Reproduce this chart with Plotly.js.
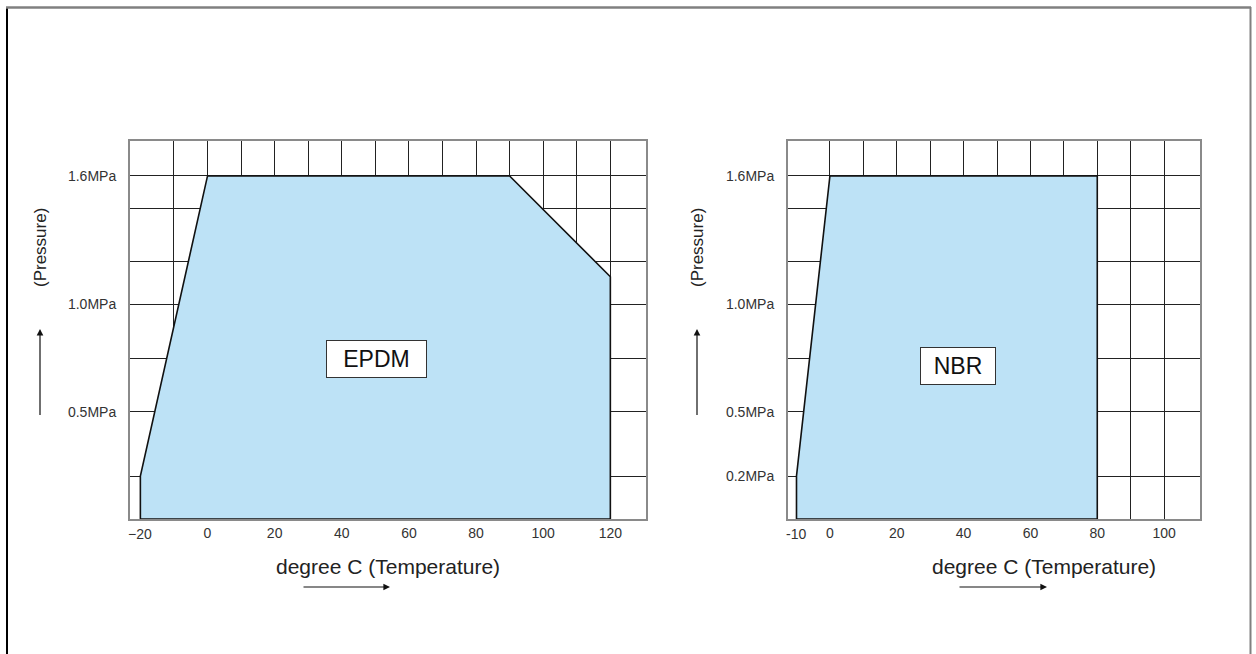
<!DOCTYPE html>
<html>
<head>
<meta charset="utf-8">
<script src="https://cdn.plot.ly/plotly-3.0.1.min.js"></script>
<style>
  html, body { margin: 0; padding: 0; background: #fff; }
  #chart { width: 1256px; height: 654px; }
</style>
</head>
<body>
<div id="chart"></div>
<script>
// ---- Data ----
// EPDM operating envelope: temperature (deg C) vs pressure (MPa)
const epdmTemp     = [-20, -20, 0, 90, 120, 120, -20];
const epdmPressure = [0, 0.2, 1.6, 1.6, 1.13, 0, 0];

// NBR operating envelope
const nbrTemp     = [-10, -10, 0, 80, 80, -10];
const nbrPressure = [0, 0.2, 1.6, 1.6, 0, 0];

// Tick / grid positions and labels
const epdmMinTemp = -20, epdmMinLabel = '\u221220';
const nbrMinTemp  = -10, nbrMinLabel  = '-10';
const epdmTempTicks  = [-10, 0, 10, 20, 30, 40, 50, 60, 70, 80, 90, 100, 110, 120];
const epdmTempLabels = ['', '0', '', '20', '', '40', '', '60', '', '80', '', '100', '', '120'];
const nbrTempTicks   = [0, 10, 20, 30, 40, 50, 60, 70, 80, 90, 100];
const nbrTempLabels  = ['0', '', '20', '', '40', '', '60', '', '80', '', '100'];
const pressureTicks      = [0.2, 0.5, 0.75, 1.0, 1.2, 1.45, 1.6];
const epdmPressureLabels = ['', '0.5MPa', '', '1.0MPa', '', '', '1.6MPa'];
const nbrPressureLabels  = ['0.2MPa', '0.5MPa', '', '1.0MPa', '', '', '1.6MPa'];

const materialNames = ['EPDM', 'NBR'];
const xTitle = 'degree C (Temperature)';
const yTitle = '(Pressure)';

// ---- Styling ----
const W = 1256, H = 654;
const FONT = 'Liberation Sans, Arial, Helvetica, sans-serif';
const fillColor = '#bde2f6';
const px = v => v / W;
const py = v => 1 - v / H;
const tickFontX = { family: FONT, size: 14, color: '#333' };

const traces = [
  {
    x: epdmTemp, y: epdmPressure, xaxis: 'x', yaxis: 'y',
    type: 'scatter', mode: 'lines', fill: 'toself', fillcolor: fillColor,
    line: { color: '#111', width: 1.6 }, hoverinfo: 'skip', name: materialNames[0]
  },
  {
    x: nbrTemp, y: nbrPressure, xaxis: 'x2', yaxis: 'y2',
    type: 'scatter', mode: 'lines', fill: 'toself', fillcolor: fillColor,
    line: { color: '#111', width: 1.6 }, hoverinfo: 'skip', name: materialNames[1]
  }
];

function xAxis(domain, range, tickvals, ticktext, anchor) {
  return {
    domain, range, anchor, tickmode: 'array', tickvals, ticktext,
    showgrid: true, gridcolor: '#222', gridwidth: 1, zeroline: false,
    showline: true, mirror: true, linecolor: '#8a8a8a', linewidth: 2,
    ticks: '', tickfont: tickFontX, fixedrange: true
  };
}
function yAxis(domain, tickvals, ticktext, anchor) {
  return {
    domain, range: [0, 1.763], anchor, tickmode: 'array', tickvals, ticktext,
    showgrid: true, gridcolor: '#222', gridwidth: 1, zeroline: false,
    showline: true, mirror: true, linecolor: '#8a8a8a', linewidth: 2,
    ticks: 'outside', ticklen: 9, tickcolor: 'rgba(0,0,0,0)',
    tickfont: { family: FONT, size: 14, color: '#333' }, fixedrange: true
  };
}

const yDom = [py(519), py(141)];

const arrowCommon = {
  xref: 'paper', yref: 'paper', text: ' ', font: { size: 1 },
  showarrow: true, arrowhead: 2, arrowsize: 1.1, arrowwidth: 1.2, arrowcolor: '#111',
  axref: 'pixel', ayref: 'pixel', standoff: 0, startstandoff: 0
};

const annotations = [
  // minimum-temperature tick labels (no grid line in the reference)
  { xref: 'x', yref: 'paper', x: epdmMinTemp, y: py(524), text: epdmMinLabel, showarrow: false,
    xanchor: 'center', yanchor: 'top', font: tickFontX },
  { xref: 'x2', yref: 'paper', x: nbrMinTemp, y: py(524), text: nbrMinLabel, showarrow: false,
    xanchor: 'center', yanchor: 'top', font: tickFontX },
  // material labels
  { xref: 'x', yref: 'y', x: 50.2, y: 0.746, text: materialNames[0], showarrow: false,
    font: { family: FONT, size: 23, color: '#111' }, bgcolor: '#fff',
    bordercolor: '#333', borderwidth: 1, borderpad: 4, width: 91, height: 28 },
  { xref: 'x2', yref: 'y2', x: 38.3, y: 0.714, text: materialNames[1], showarrow: false,
    font: { family: FONT, size: 23, color: '#111' }, bgcolor: '#fff',
    bordercolor: '#333', borderwidth: 1, borderpad: 4, width: 66, height: 28 },
  // x titles
  { xref: 'paper', yref: 'paper', x: px(388), y: py(566), text: xTitle, showarrow: false,
    xanchor: 'center', yanchor: 'middle', font: { family: FONT, size: 21, color: '#222' } },
  { xref: 'paper', yref: 'paper', x: px(1044), y: py(566), text: xTitle, showarrow: false,
    xanchor: 'center', yanchor: 'middle', font: { family: FONT, size: 21, color: '#222' } },
  // y titles
  { xref: 'paper', yref: 'paper', x: px(40), y: py(248), text: yTitle, showarrow: false,
    textangle: -90, xanchor: 'center', yanchor: 'middle', font: { family: FONT, size: 17, color: '#222' } },
  { xref: 'paper', yref: 'paper', x: px(697), y: py(248), text: yTitle, showarrow: false,
    textangle: -90, xanchor: 'center', yanchor: 'middle', font: { family: FONT, size: 17, color: '#222' } },
  // arrows
  Object.assign({}, arrowCommon, { x: px(40), y: py(329), ax: 0, ay: 88 }),
  Object.assign({}, arrowCommon, { x: px(697), y: py(329), ax: 0, ay: 88 }),
  Object.assign({}, arrowCommon, { x: px(390), y: py(587), ax: -88, ay: 0 }),
  Object.assign({}, arrowCommon, { x: px(1047), y: py(587), ax: -89, ay: 0 })
];

const shapes = [
  // outer frame
  { type: 'line', xref: 'paper', yref: 'paper', x0: px(7), x1: px(7), y0: py(7), y1: py(660),
    line: { color: '#000', width: 2 } },
  { type: 'line', xref: 'paper', yref: 'paper', x0: px(6), x1: px(1251), y0: py(7.5), y1: py(7.5),
    line: { color: '#808080', width: 2.5 } },
  { type: 'line', xref: 'paper', yref: 'paper', x0: px(1250.5), x1: px(1250.5), y0: py(7), y1: py(660),
    line: { color: '#808080', width: 2 } }
];

const layout = {
  width: W, height: H,
  margin: { l: 0, r: 0, t: 0, b: 0, pad: 0 },
  paper_bgcolor: '#fff', plot_bgcolor: '#fff',
  showlegend: false,
  font: { family: FONT, color: '#222' },
  xaxis:  xAxis([px(130), px(646)], [-23.09, 130.62], epdmTempTicks, epdmTempLabels, 'y'),
  yaxis:  yAxis(yDom, pressureTicks, epdmPressureLabels, 'x'),
  xaxis2: xAxis([px(788), px(1200)], [-12.54, 110.74], nbrTempTicks, nbrTempLabels, 'y2'),
  yaxis2: yAxis(yDom, pressureTicks, nbrPressureLabels, 'x2'),
  annotations, shapes
};

Plotly.newPlot('chart', traces, layout, { displayModeBar: false, staticPlot: true });
</script>
</body>
</html>
